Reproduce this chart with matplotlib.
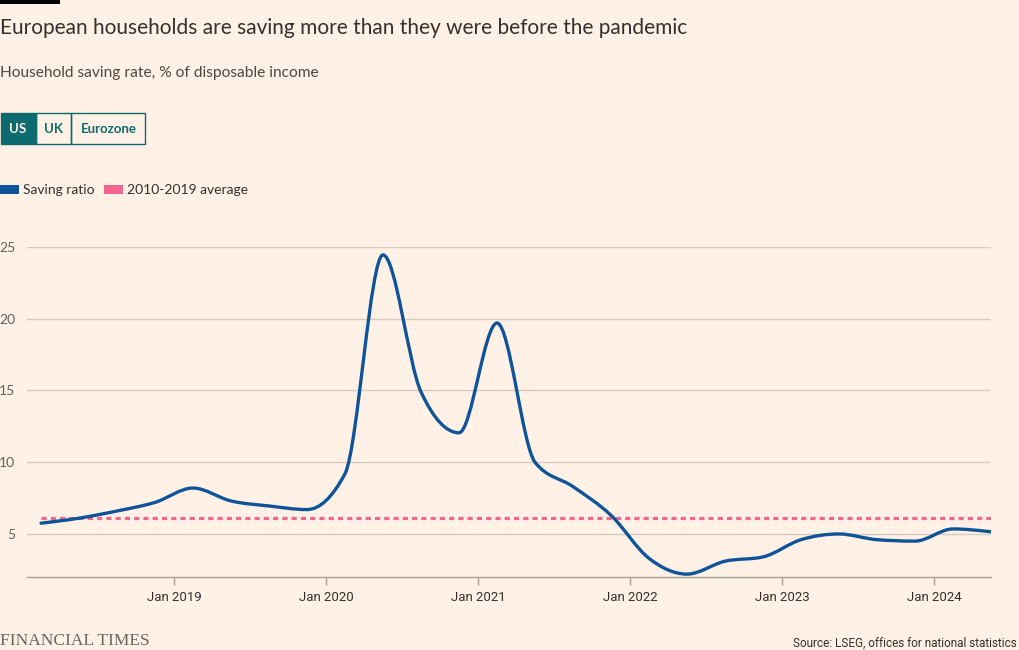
import numpy as np
import matplotlib
matplotlib.use("Agg")
import matplotlib.pyplot as plt
from matplotlib.path import Path
from matplotlib.patches import PathPatch, Rectangle

# ----------------------
# Data (US household saving ratio, quarterly)
# ----------------------
quarters = [
    "2018Q1", "2018Q2", "2018Q3", "2018Q4",
    "2019Q1", "2019Q2", "2019Q3", "2019Q4",
    "2020Q1", "2020Q2", "2020Q3", "2020Q4",
    "2021Q1", "2021Q2", "2021Q3", "2021Q4",
    "2022Q1", "2022Q2", "2022Q3", "2022Q4",
    "2023Q1", "2023Q2", "2023Q3", "2023Q4",
    "2024Q1", "2024Q2",
]
saving_ratio = [
    5.75, 6.1, 6.6, 7.2,
    8.2, 7.3, 6.95, 6.7,
    9.2, 24.45, 14.9, 12.05,
    19.7, 10.0, 8.3, 6.3,
    3.3, 2.2, 3.1, 3.4,
    4.6, 5.0, 4.6, 4.5,
    5.35, 5.15,
]
average_2010_2019 = 6.1

xtick_years = [2019, 2020, 2021, 2022, 2023, 2024]
xtick_labels = ["Jan 2019", "Jan 2020", "Jan 2021", "Jan 2022", "Jan 2023", "Jan 2024"]
ytick_vals = [5, 10, 15, 20, 25]

# ----------------------
# Style
# ----------------------
BG = "#fff1e5"
BLUE = "#0f5499"
PINK = "#f0668f"
TEAL = "#0d6b70"
GRID = "#d6cbc1"
TEXT = "#33302e"
MUTED = "#66605c"

W, H = 1020, 650


def fx(px):
    return px / W


def fy(py):
    return 1 - py / H


# quarter label -> decimal year at mid quarter
x = np.array([int(q[:4]) + (int(q[-1]) - 0.5) / 4 for q in quarters])
y = np.array(saving_ratio, dtype=float)


def monotone_path(xs, ys):
    # monotone cubic (d3 curveMonotoneX style) as bezier segments
    n = len(xs)
    h = np.diff(xs)
    s = np.diff(ys) / h
    t = np.zeros(n)
    for i in range(1, n - 1):
        p = (s[i - 1] * h[i] + s[i] * h[i - 1]) / (h[i - 1] + h[i])
        t[i] = (np.sign(s[i - 1]) + np.sign(s[i])) * min(abs(s[i - 1]), abs(s[i]), 0.5 * abs(p))
    t[0] = (3 * s[0] - t[1]) / 2
    t[-1] = (3 * s[-1] - t[-2]) / 2
    verts = [(xs[0], ys[0])]
    codes = [Path.MOVETO]
    for i in range(n - 1):
        dx = h[i] / 3
        verts += [(xs[i] + dx, ys[i] + dx * t[i]),
                  (xs[i + 1] - dx, ys[i + 1] - dx * t[i + 1]),
                  (xs[i + 1], ys[i + 1])]
        codes += [Path.CURVE4] * 3
    return Path(verts, codes)


plt.rcParams["font.family"] = ["Lato", "DejaVu Sans"]

fig = plt.figure(figsize=(W / 100, H / 100), dpi=100, facecolor=BG)

ax_left, ax_right, ax_top, ax_bottom = 27, 991, 247, 577
ax = fig.add_axes([fx(ax_left), fy(ax_bottom), fx(ax_right - ax_left), (ax_bottom - ax_top) / H])
ax.set_facecolor(BG)

x0 = 2019 - (174 - ax_left) / 152
ax.set_xlim(x0, x[-1])
ax.set_ylim(2, 25)

# grid
for v in ytick_vals:
    ax.axhline(v, color=GRID, lw=1, zorder=1)

# average line
ax.plot([x[0], x[-1]], [average_2010_2019] * 2, color=PINK, lw=2.3,
        dashes=(1.6, 1.3), dash_capstyle="butt", zorder=2)

# saving ratio line
ax.add_patch(PathPatch(monotone_path(x, y), facecolor="none", edgecolor=BLUE,
                       lw=2.4, capstyle="round", joinstyle="round", zorder=3))

for side in ["top", "right", "left"]:
    ax.spines[side].set_visible(False)
ax.spines["bottom"].set_color("#a49c95")
ax.spines["bottom"].set_linewidth(1)

ax.set_xticks(xtick_years)
ax.set_xticklabels(xtick_labels, fontsize=9.5, color=TEXT,
                   family=["Liberation Sans Narrow", "Roboto", "DejaVu Sans"])
ax.tick_params(axis="x", length=6, width=1, color="#a49c95", pad=4)

ax.set_yticks(ytick_vals)
ax.set_yticklabels([str(v) for v in ytick_vals], fontsize=10, color=MUTED)
ax.tick_params(axis="y", length=0, pad=8.5)
for lab in ax.get_yticklabels():
    lab.set_horizontalalignment("right")

# ----------------------
# Header
# ----------------------
fig.patches.append(Rectangle((0, fy(4)), fx(60), 4 / H, transform=fig.transFigure,
                             facecolor="#000000", edgecolor="none"))
fig.text(0, fy(28), "European households are saving more than they were before the pandemic",
         fontsize=15, color=TEXT, va="center", ha="left")
fig.text(0, fy(73), "Household saving rate, % of disposable income",
         fontsize=11.2, color="#4d4845", va="center", ha="left")

# toggle buttons
buttons = [("US", 0, 36), ("UK", 36, 71), ("Eurozone", 71, 146)]
for i, (lab, bx0, bx1) in enumerate(buttons):
    fig.patches.append(Rectangle((fx(bx0 + 0.5), fy(144)), fx(bx1 - bx0 - 1), 31 / H,
                                 transform=fig.transFigure,
                                 facecolor=TEAL if i == 0 else "none",
                                 edgecolor=TEAL, lw=1))
    fig.text(fx((bx0 + bx1) / 2), fy(129), lab, fontsize=9.5, fontweight="bold",
             color=BG if i == 0 else TEAL, ha="center", va="center")

# legend
fig.patches.append(Rectangle((0, fy(194)), fx(19), 9 / H, transform=fig.transFigure,
                             facecolor=BLUE, edgecolor="none"))
fig.text(fx(23), fy(190), "Saving ratio", fontsize=10, color=TEXT, va="center")
fig.patches.append(Rectangle((fx(104), fy(194)), fx(19), 9 / H, transform=fig.transFigure,
                             facecolor=PINK, edgecolor="none"))
fig.text(fx(127), fy(190), "2010-2019 average", fontsize=10, color=TEXT, va="center")

# footer
fig.text(0, fy(641), "FINANCIAL TIMES", fontsize=12.5, color="#6b6561",
         family=["Liberation Serif", "DejaVu Serif"], va="center", ha="left")
fig.text(fx(1017), fy(643), "Source: LSEG, offices for national statistics", fontsize=8.5,
         color=TEXT, family=["Liberation Sans Narrow", "Roboto", "DejaVu Sans"],
         va="center", ha="right")

fig.savefig("out.png", dpi=100, facecolor=BG)
